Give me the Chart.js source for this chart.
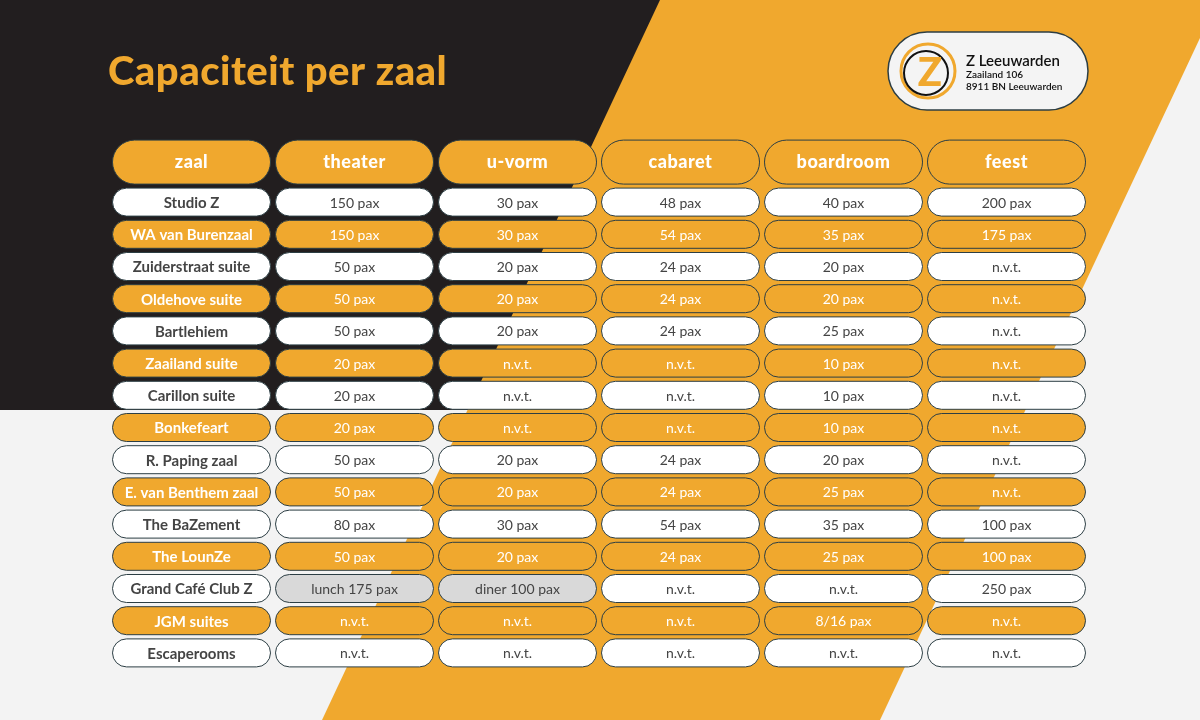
<!DOCTYPE html>
<html>
<head>
<meta charset="utf-8">
<script src="https://cdn.jsdelivr.net/npm/chart.js@4"></script>
<style>
  html, body { margin: 0; padding: 0; background: #f3f3f3; }
  #wrap { width: 1200px; height: 720px; position: relative; }
</style>
</head>
<body>
<div id="wrap"><canvas id="chart" width="1200" height="720"></canvas></div>
<script>
const columns = ["zaal", "theater", "u-vorm", "cabaret", "boardroom", "feest"];
const rooms = ["Studio Z", "WA van Burenzaal", "Zuiderstraat suite", "Oldehove suite", "Bartlehiem",
  "Zaailand suite", "Carillon suite", "Bonkefeart", "R. Paping zaal", "E. van Benthem zaal",
  "The BaZement", "The LounZe", "Grand Café Club Z", "JGM suites", "Escaperooms"];
const theater = ["150 pax", "150 pax", "50 pax", "50 pax", "50 pax", "20 pax", "20 pax", "20 pax",
  "50 pax", "50 pax", "80 pax", "50 pax", "lunch 175 pax", "n.v.t.", "n.v.t."];
const uVorm = ["30 pax", "30 pax", "20 pax", "20 pax", "20 pax", "n.v.t.", "n.v.t.", "n.v.t.",
  "20 pax", "20 pax", "30 pax", "20 pax", "diner 100 pax", "n.v.t.", "n.v.t."];
const cabaret = ["48 pax", "54 pax", "24 pax", "24 pax", "24 pax", "n.v.t.", "n.v.t.", "n.v.t.",
  "24 pax", "24 pax", "54 pax", "24 pax", "n.v.t.", "n.v.t.", "n.v.t."];
const boardroom = ["40 pax", "35 pax", "20 pax", "20 pax", "25 pax", "10 pax", "10 pax", "10 pax",
  "20 pax", "25 pax", "35 pax", "25 pax", "n.v.t.", "8/16 pax", "n.v.t."];
const feest = ["200 pax", "175 pax", "n.v.t.", "n.v.t.", "n.v.t.", "n.v.t.", "n.v.t.", "n.v.t.",
  "n.v.t.", "n.v.t.", "100 pax", "100 pax", "250 pax", "n.v.t.", "n.v.t."];
const table = [rooms, theater, uVorm, cabaret, boardroom, feest];
// gray-highlighted cells: [column, row]
const grayCells = [[1, 12], [2, 12]];

const ORANGE = "#f0a82e";
const DARK = "#221e1f";
const FONT = "Lato, 'Open Sans', sans-serif";

const points = [];
table.forEach((col, c) => col.forEach((v, r) => points.push({ x: columns[c], y: String(r), text: v, c: c, r: r })));

function roundRect(ctx, x, y, w, h, rad) {
  ctx.beginPath();
  ctx.roundRect(x, y, w, h, rad);
}

const tablePlugin = {
  id: "tablePlugin",
  beforeDraw(chart) {
    const ctx = chart.ctx;
    ctx.save();
    ctx.fillStyle = "#f3f3f3";
    ctx.fillRect(0, 0, 1200, 720);
    ctx.fillStyle = DARK;
    ctx.fillRect(0, 0, 700, 410);
    ctx.fillStyle = ORANGE;
    ctx.beginPath();
    ctx.moveTo(660, 0); ctx.lineTo(1200, 0); ctx.lineTo(1200, 38);
    ctx.lineTo(880, 720); ctx.lineTo(322, 720); ctx.closePath();
    ctx.fill();
    // title
    ctx.fillStyle = ORANGE;
    ctx.font = "900 40px " + FONT;
    ctx.textBaseline = "middle";
    ctx.letterSpacing = "0.5px";
    ctx.fillText("Capaciteit per zaal", 108, 72);
    ctx.letterSpacing = "0px";
    // logo badge
    roundRect(ctx, 888, 32, 200, 78, 39);
    ctx.fillStyle = "#f4f4f4"; ctx.fill();
    ctx.strokeStyle = "#2c3e44"; ctx.lineWidth = 1.5; ctx.stroke();
    ctx.beginPath(); ctx.arc(928, 71, 27, 0, Math.PI * 2);
    ctx.strokeStyle = ORANGE; ctx.lineWidth = 3; ctx.stroke();
    ctx.beginPath(); ctx.arc(926, 73, 22, 0, Math.PI * 2);
    ctx.strokeStyle = "#111"; ctx.lineWidth = 2; ctx.stroke();
    ctx.fillStyle = ORANGE;
    ctx.font = "900 40px " + FONT;
    ctx.textAlign = "center";
    ctx.fillText("Z", 930, 73);
    ctx.textAlign = "left";
    ctx.fillStyle = "#111";
    ctx.font = "600 15px " + FONT;
    ctx.fillText("Z Leeuwarden", 966, 61);
    ctx.font = "600 10px " + FONT;
    ctx.fillText("Zaailand 106", 966, 75);
    ctx.fillText("8911 BN Leeuwarden", 966, 87);
    ctx.restore();
  },
  afterDatasetsDraw(chart) {
    const ctx = chart.ctx;
    const els = chart.getDatasetMeta(0).data;
    const w = 158, h = 28;
    ctx.save();
    ctx.textAlign = "center";
    ctx.textBaseline = "middle";
    els.forEach((el, i) => {
      const p = points[i];
      const orangeRow = p.r % 2 === 1;
      const gray = grayCells.some(g => g[0] === p.c && g[1] === p.r);
      // header above first row
      if (p.r === 0) {
        roundRect(ctx, el.x - w / 2, el.y - 62, w, 44, 22);
        ctx.fillStyle = ORANGE; ctx.fill();
        ctx.strokeStyle = "#2c3e44"; ctx.lineWidth = 1; ctx.stroke();
        ctx.fillStyle = "#ffffff";
        ctx.font = "900 18px " + FONT;
        ctx.letterSpacing = "0.5px";
        ctx.fillText(columns[p.c], el.x, el.y - 40);
        ctx.letterSpacing = "0px";
      }
      roundRect(ctx, el.x - w / 2, el.y - h / 2, w, h, 14);
      ctx.fillStyle = gray ? "#d9d9d9" : (orangeRow ? ORANGE : "#ffffff");
      ctx.fill();
      ctx.strokeStyle = "#2c3e44"; ctx.lineWidth = 1; ctx.stroke();
      ctx.fillStyle = orangeRow ? "#ffffff" : "#444444";
      ctx.font = (p.c === 0 ? "700 15px " : "400 14px ") + FONT;
      ctx.fillText(p.text, el.x, el.y + 1);
    });
    ctx.restore();
  }
};

new Chart(document.getElementById("chart"), {
  type: "scatter",
  data: { datasets: [{ data: points, pointRadius: 0, pointHoverRadius: 0 }] },
  options: {
    responsive: false,
    animation: false,
    events: [],
    layout: { padding: { left: 110, right: 112, top: 186, bottom: 51 } },
    plugins: { legend: { display: false }, tooltip: { enabled: false } },
    scales: {
      x: { type: "category", labels: columns, offset: true, display: false },
      y: { type: "category", labels: rooms.map((_, i) => String(i)), offset: true, display: false }
    }
  },
  plugins: [tablePlugin]
});
</script>
</body>
</html>
